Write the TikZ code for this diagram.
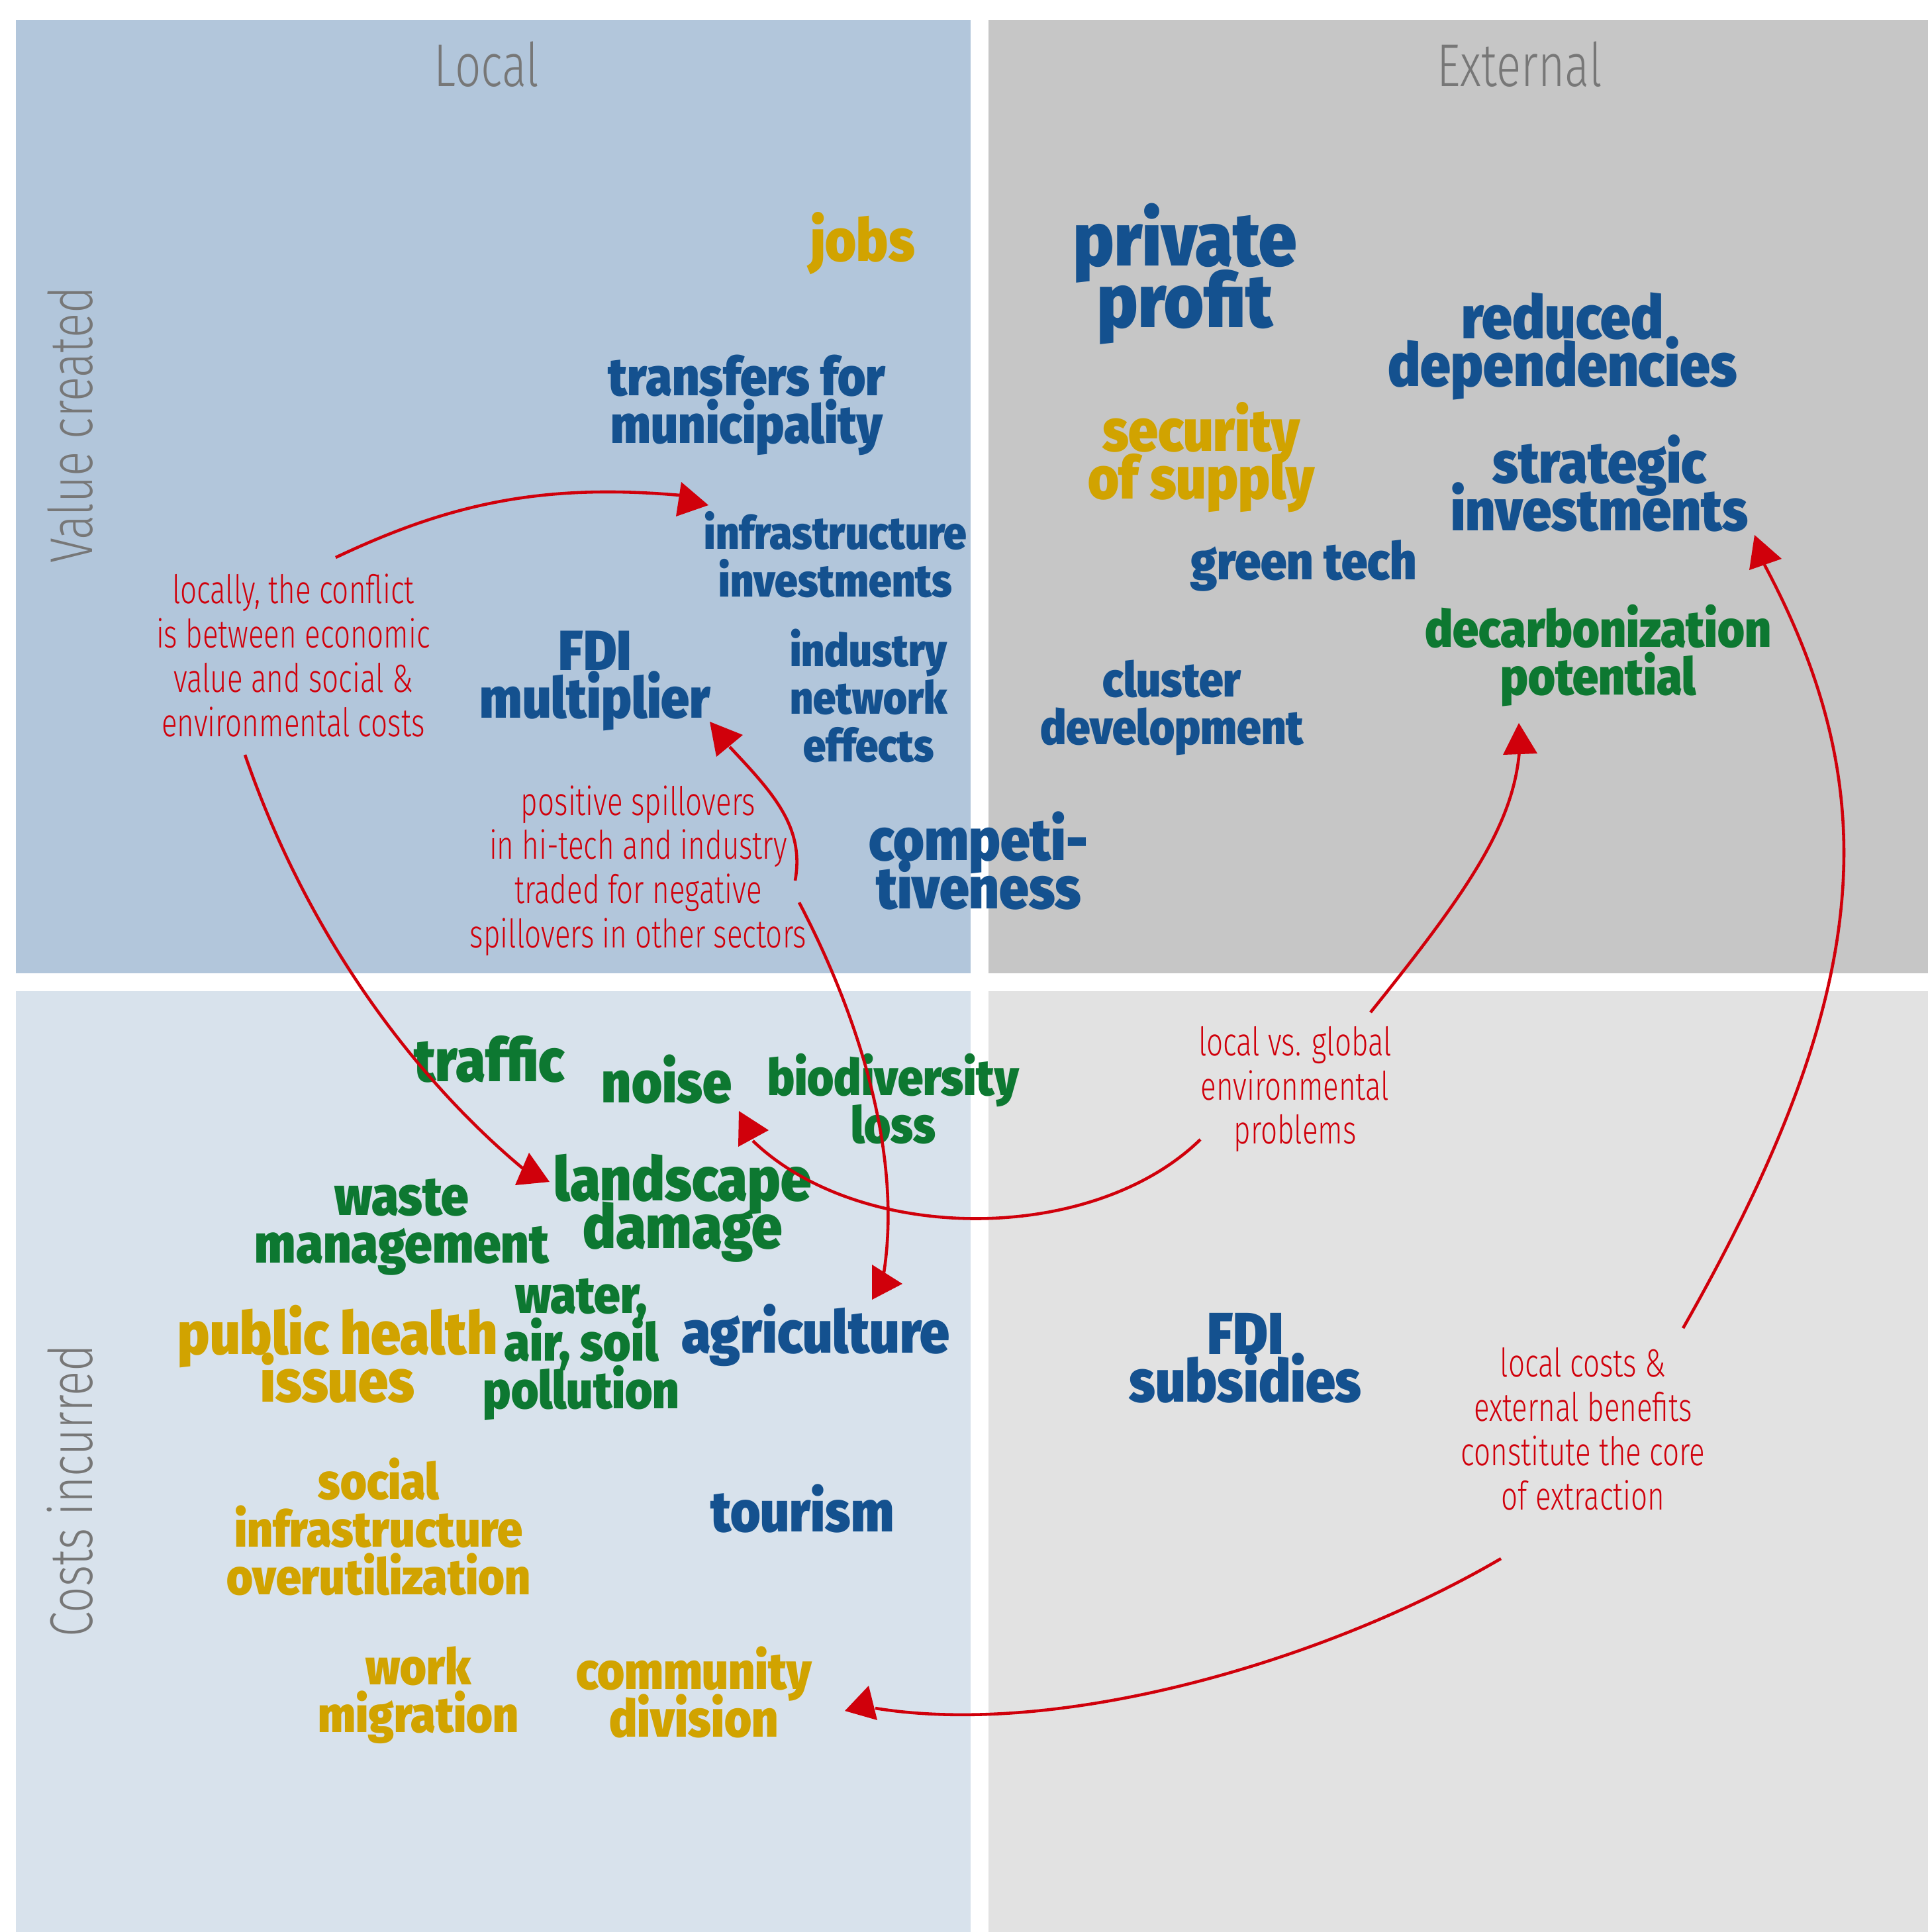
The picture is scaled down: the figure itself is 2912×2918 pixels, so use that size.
\documentclass[tikz,border=0pt]{standalone}
\usepackage{fontspec}
\newfontfamily\heavyfont{Fira Sans Black}[FakeStretch=0.9]
\newfontfamily\lightfont{Fira Sans Light}[FakeStretch=0.74]
\newfontfamily\headfont{Fira Sans Light}[FakeStretch=0.76]
\protected\def\tightlines{\lineskiplimit-50pt\relax}
\definecolor{localtop}{HTML}{B2C6DB}
\definecolor{externtop}{HTML}{C6C6C6}
\definecolor{localbot}{HTML}{D8E2EC}
\definecolor{externbot}{HTML}{E2E2E2}
\definecolor{navytext}{HTML}{14518F}
\definecolor{goldtext}{HTML}{D1A300}
\definecolor{greentext}{HTML}{0D7831}
\definecolor{arrowred}{HTML}{D0000B}
\definecolor{greytext}{HTML}{777777}

\begin{document}
\begin{tikzpicture}[x=0.01cm, y=-0.01cm,
	word/.style={font=\heavyfont\fontsize{#1}{20.5pt}\selectfont\tightlines, align=center, inner sep=0pt},
	bluew/.style={text=navytext},
	goldw/.style={text=goldtext},
	greenw/.style={text=greentext},
	note/.style={font=\lightfont\fontsize{16.9pt}{19pt}\selectfont\tightlines, text=arrowred, align=center, inner sep=0pt},
	head/.style={font=\headfont\fontsize{25.9pt}{30pt}\selectfont, text=greytext, inner sep=0pt},
	link/.style={draw=arrowred, line width=1.3pt}]
	\useasboundingbox (0,0) rectangle (2912,2918);
	% quadrants
	\fill[localtop] (24,30) rectangle (1466,1470);
	\fill[externtop] (1493,30) rectangle (2912,1470);
	\fill[localbot] (24,1497) rectangle (1466,2918);
	\fill[externbot] (1493,1497) rectangle (2912,2918);
	% headings
	\node[head, at={(735,97)}] (local) {Local};
	\node[head, at={(2295,97)}] (external) {External};
	\node[head, rotate=90, at={(106,642)}] (value) {Value created};
	\node[head, rotate=90, at={(106,2252)}] (costs) {Costs incurred};
	% value created
	\node[word=25.4pt, goldw, at={(1303,368)}] (jobs) {jobs};
	\node[bluew, align=center, inner sep=0pt, font=\heavyfont\fontsize{32.4pt}{26.5pt}\selectfont\tightlines, at={(1790,414)}] (profit) {private\\profit};
	\node[word=25.9pt, bluew, at={(2360,523)}] (reduced) {reduced\\dependencies};
	\node[word=22.9pt, bluew, at={(1128,612)}] (transfers) {transfers for\\municipality};
	\node[word=25.4pt, goldw, at={(1814,691)}] (security) {security\\of supply};
	\node[word=25pt, bluew, at={(2416,730)}] (strategic) {strategic\\investments};
	\node[word=19.6pt, bluew, at={(1262,838)}] (infra) {infrastructure\\investments};
	\node[word=22.3pt, bluew, at={(1969,854)}] (greentech) {green tech};
	\node[word=22.1pt, greenw, at={(2414,990)}] (decarb) {decarbonization\\potential};
	\node[word=24.3pt, bluew, at={(899,1028)}] (multiplier) {FDI\\multiplier};
	\node[word=19.4pt, bluew, at={(1312,1051)}] (network) {industry\\network\\effects};
	\node[word=20.7pt, bluew, at={(1770,1069)}] (cluster) {cluster\\development};
	\node[word=25.3pt, bluew, at={(1478,1300)}] (compet) {competi-\\tiveness};
	% costs incurred
	\node[word=25.8pt, greenw, at={(739,1600)}] (traffic) {traffic};
	\node[word=24.9pt, greenw, at={(1007,1630)}] (noise) {noise};
	\node[word=21.7pt, greenw, at={(1349,1660)}] (biodiv) {biodiversity\\loss};
	\node[word=26.2pt, greenw, at={(1031,1825)}] (landscape) {landscape\\damage};
	\node[word=23.5pt, greenw, at={(607,1853)}] (waste) {waste\\management};
	\node[word=22.4pt, greenw, at={(878,2038)}] (water) {water,\\air, soil\\pollution};
	\node[word=25.5pt, goldw, at={(510,2045)}] (health) {public health\\issues};
	\node[word=25.4pt, bluew, at={(1232,2017)}] (agri) {agriculture};
	\node[word=25.4pt, bluew, at={(1881,2051)}] (subsidies) {FDI\\subsidies};
	\node[word=21.5pt, goldw, at={(572,2306)}] (social) {social\\infrastructure\\overutilization};
	\node[word=24.6pt, bluew, at={(1212,2278)}] (tourism) {tourism};
	\node[word=21.5pt, goldw, at={(632,2560)}] (migration) {work\\migration};
	\node[word=22.2pt, goldw, at={(1048,2556)}] (community) {community\\division};
	% annotations
	\node[note, at={(443,990)}] (conflict) {locally, the conflict\\is between economic\\value and social \&\\environmental costs};
	\node[note, at={(964,1315)}] (spill) {positive spillovers\\in hi-tech and industry\\traded for negative\\spillovers in other sectors};
	\node[note, at={(1956,1645)}] (global) {local vs. global\\environmental\\problems};
	\node[note, at={(2391,2158)}] (extract) {local costs \&\\external benefits\\constitute the core\\of extraction};
	% arrow ends
	\coordinate (conflict-up) at (507,842);
	\coordinate (conflict-down) at (370,1140);
	\coordinate (spill-up) at (1201,1330);
	\coordinate (spill-down) at (1207,1363);
	\coordinate (global-up) at (2070,1529);
	\coordinate (global-left) at (1813,1721);
	\coordinate (extract-up) at (2542,2006);
	\coordinate (extract-left) at (2267,2354);
	\coordinate (to-infra) at (1027,748);
	\coordinate (to-landscape) at (790,1765);
	\coordinate (to-multiplier) at (1102,1128);
	\coordinate (to-agri) at (1335,1922);
	\coordinate (to-decarb) at (2296,1107);
	\coordinate (to-noise) at (1137,1723);
	\coordinate (to-strategic) at (2665,853);
	\coordinate (to-community) at (1322,2580);
	% arrows
	\draw[link] (conflict-up) .. controls (680,760) and (820,730) .. (to-infra);
	\draw[link] (conflict-down) .. controls (470,1430) and (640,1640) .. (to-landscape);
	\draw[link] (spill-up) .. controls (1215,1250) and (1170,1200) .. (to-multiplier);
	\draw[link] (spill-down) .. controls (1310,1560) and (1360,1760) .. (to-agri);
	\draw[link] (global-up) .. controls (2230,1330) and (2296,1230) .. (to-decarb);
	\draw[link] (global-left) .. controls (1650,1880) and (1300,1880) .. (to-noise);
	\draw[link] (extract-up) .. controls (2830,1500) and (2850,1200) .. (to-strategic);
	\draw[link] (extract-left) .. controls (2000,2510) and (1600,2625) .. (to-community);
	% arrow heads
	\fill[arrowred] (1029,728) -- (1070,763) -- (1021,780) -- cycle;
	\fill[arrowred] (799,1741) -- (830,1785) -- (778,1790) -- cycle;
	\fill[arrowred] (1072,1090) -- (1122,1110) -- (1082,1143) -- cycle;
	\fill[arrowred] (1317,1910) -- (1363,1939) -- (1317,1963) -- cycle;
	\fill[arrowred] (2294,1092) -- (2322,1138) -- (2270,1140) -- cycle;
	\fill[arrowred] (1116,1678) -- (1161,1707) -- (1115,1732) -- cycle;
	\fill[arrowred] (2650,808) -- (2691,844) -- (2642,861) -- cycle;
	\fill[arrowred] (1312,2546) -- (1325,2598) -- (1276,2584) -- cycle;
\end{tikzpicture}
\end{document}
